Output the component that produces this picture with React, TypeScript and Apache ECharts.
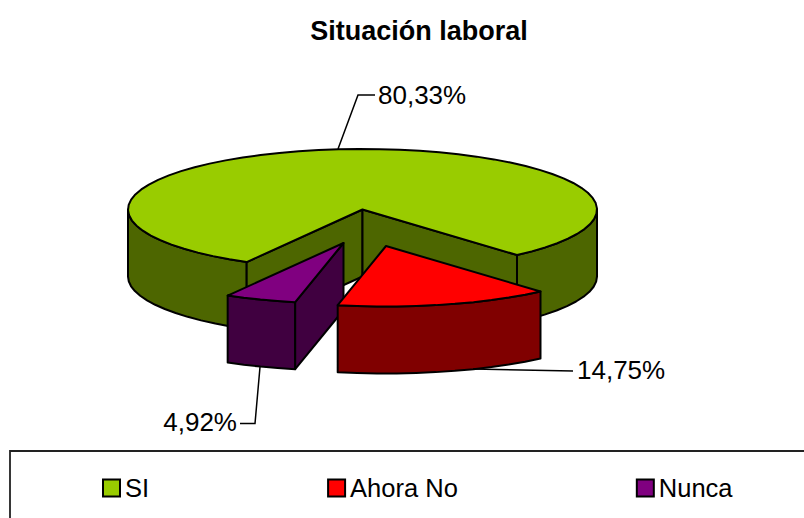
import React, { useEffect, useRef } from "react";
import * as echarts from "echarts";

const categories = ["SI", "Ahora No", "Nunca"];
const percentages = [80.33, 14.75, 4.92];
const topColors = ["#99cc00", "#ff0000", "#800080"];
const sideColors = ["#4d6600", "#800000", "#400040"];
const titleText = "Situación laboral";

const FONT = '"Liberation Sans", Arial, sans-serif';
const RX = 234.5;
const RY = 60.5;
const DEPTH = 67;
const FIRST_ANGLE = 119.6;
const centers = [
  [362.5, 209.5],
  [386, 246],
  [343.5, 243],
];
const leaders = [
  [[338, 149], [358, 95], [375, 95]],
  [[473, 369], [573, 371]],
  [[260, 367], [255, 423.5], [240, 423.5]],
];
const labelPos: [number, number, string][] = [
  [378, 95, "left"],
  [577, 370, "left"],
  [237, 422, "right"],
];
const zOrder = [2, 4, 3];

const total = percentages.reduce((a, b) => a + b, 0);
const pctText = (v: number) => v.toFixed(2).replace(".", ",") + "%";

function sliceRange(i: number): [number, number] {
  let s = FIRST_ANGLE;
  for (let k = 0; k < i; k++) s += (percentages[k] / total) * 360;
  return [s, s + (percentages[i] / total) * 360];
}

function arcPoints(cx: number, cy: number, a: number, b: number) {
  const pts: number[][] = [];
  const n = Math.max(2, Math.ceil((b - a) / 5));
  for (let j = 0; j <= n; j++) {
    const t = ((a + ((b - a) * j) / n) * Math.PI) / 180;
    pts.push([cx + RX * Math.cos(t), cy + RY * Math.sin(t)]);
  }
  return pts;
}

function renderSlice(i: number) {
  return (_params: any, api: any) => {
    const [cx, cy] = centers[i];
    const [s, e] = sliceRange(i);
    const top = topColors[i];
    const side = sideColors[i];
    const line = { stroke: "#000", lineWidth: 2, lineJoin: "round" };
    const children: any[] = [];

    for (let k = 0; k < 2; k++) {
      const a = Math.max(s, k * 360);
      const b = Math.min(e, k * 360 + 180);
      if (b > a) {
        const arc = arcPoints(cx, cy, a, b);
        const low = arc.slice().reverse().map((p) => [p[0], p[1] + DEPTH]);
        children.push({
          type: "polygon",
          shape: { points: arc.concat(low) },
          style: { fill: side, ...line },
        });
      }
    }
    const wall = (ang: number) => {
      const p = arcPoints(cx, cy, ang, ang + 1)[0];
      children.push({
        type: "polygon",
        shape: { points: [[cx, cy], p, [p[0], p[1] + DEPTH], [cx, cy + DEPTH]] },
        style: { fill: side, ...line },
      });
    };
    if (Math.sin(((s - 90) * Math.PI) / 180) > 0) wall(s);
    if (Math.sin(((e + 90) * Math.PI) / 180) > 0) wall(e);

    children.push({
      type: "polygon",
      shape: { points: [[cx, cy], ...arcPoints(cx, cy, s, e)] },
      style: { fill: top, ...line },
    });

    children.push({
      type: "polyline",
      shape: { points: leaders[i] },
      style: { fill: "none", stroke: "#000", lineWidth: 1.5 },
    });
    const [lx, ly, align] = labelPos[i];
    children.push({
      type: "text",
      style: {
        x: lx,
        y: ly,
        text: pctText(api.value(0)),
        fontSize: 26,
        fontFamily: FONT,
        fill: "#000",
        align,
        verticalAlign: "middle",
      },
    });
    return { type: "group", children };
  };
}

export default function App() {
  const ref = useRef<HTMLDivElement>(null);
  useEffect(() => {
    document.body.style.margin = "0";
    const chart = echarts.init(ref.current!, undefined, { renderer: "svg" });
    chart.setOption({
      animation: false,
      backgroundColor: "#fff",
      title: {
        text: titleText,
        left: 414,
        top: 12,
        textAlign: "center",
        textStyle: { fontFamily: FONT, fontWeight: "bold", fontSize: 27, color: "#000" },
      },
      legend: {
        left: 97,
        top: 470,
        itemWidth: 17,
        itemHeight: 17,
        itemGap: 178,
        selectedMode: false,
        icon: "rect",
        textStyle: { fontFamily: FONT, fontSize: 25.5, color: "#000", padding: [2, 0, 0, 0] },
        data: categories.map((name, i) => ({
          name,
          itemStyle: { color: topColors[i], borderColor: "#000", borderWidth: 2 },
        })),
      },
      graphic: [
        {
          type: "rect",
          shape: { x: 10, y: 451, width: 820, height: 90 },
          style: { fill: "none", stroke: "#222", lineWidth: 1.8 },
          z: 1,
        },
      ],
      series: categories.map((name, i) => ({
        type: "custom",
        name,
        coordinateSystem: "none",
        z: zOrder[i],
        itemStyle: { color: topColors[i] },
        data: [[percentages[i]]],
        renderItem: renderSlice(i),
      })),
    });
    return () => chart.dispose();
  }, []);
  return <div ref={ref} style={{ width: 804, height: 518 }} />;
}
